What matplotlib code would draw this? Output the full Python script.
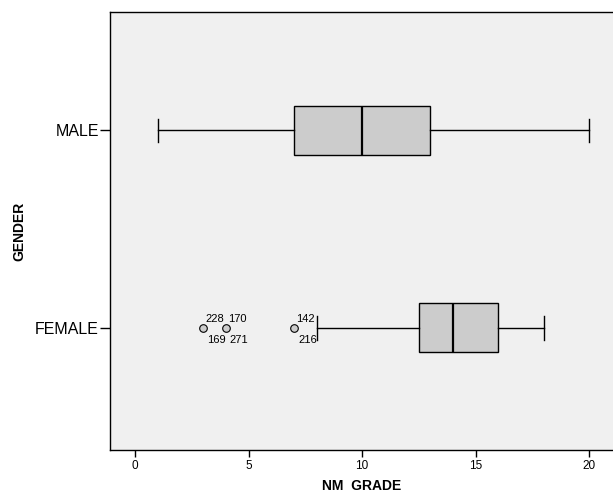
import matplotlib
matplotlib.use("Agg")
import matplotlib.pyplot as plt

plt.rcParams['font.family'] = ['Liberation Sans', 'DejaVu Sans']

categories = ["FEMALE", "MALE"]
whislo = [8, 1]
q1 = [12.5, 7]
med = [14, 10]
q3 = [16, 13]
whishi = [18, 20]
outlier_values = [3, 3, 4, 4, 7, 7]
outlier_ids = ["228", "169", "170", "271", "142", "216"]
outlier_pos = ["above", "below", "above", "below", "above", "below"]
xticks = [0, 5, 10, 15, 20]

fig = plt.figure(figsize=(6.13, 4.92), dpi=100)
ax = fig.add_axes([110/613, 42/492, 503/613, 438/492])
ax.set_facecolor('#F0F0F0')

stats = []
for i in range(len(categories)):
    stats.append(dict(label=categories[i], whislo=whislo[i], q1=q1[i], med=med[i],
                      q3=q3[i], whishi=whishi[i], fliers=[]))
ax.bxp(stats, positions=[1, 2], vert=False, widths=0.25, capwidths=0.12,
       patch_artist=True, showfliers=False,
       boxprops=dict(facecolor='#CCCCCC', edgecolor='black', linewidth=1.0),
       medianprops=dict(color='black', linewidth=1.6),
       whiskerprops=dict(color='black', linewidth=1.0),
       capprops=dict(color='black', linewidth=1.0))

# outliers (female)
uniq = sorted(set(outlier_values))
ax.scatter(uniq, [1]*len(uniq), s=30, facecolor='#CCCCCC', edgecolor='black',
           linewidth=0.8, zorder=3)
for v, lab, pos in zip(outlier_values, outlier_ids, outlier_pos):
    if pos == "above":
        ax.annotate(lab, (v, 1), xytext=(2, 4), textcoords='offset pixels',
                    ha='left', va='bottom', fontsize=8)
    else:
        ax.annotate(lab, (v, 1), xytext=(4, -7), textcoords='offset pixels',
                    ha='left', va='top', fontsize=8)

ax.set_xlim(-1.1, 21.05)
ax.set_ylim(0.38, 2.60)
ax.set_xticks(xticks)
ax.set_xticklabels([str(t) for t in xticks], fontsize=8.5)
ax.set_yticks([1, 2])
ax.set_yticklabels(categories, fontsize=11.5)
ax.tick_params(axis='x', direction='out', length=5, width=1, pad=2)
ax.tick_params(axis='y', direction='out', length=7, width=1, pad=1)
ax.spines['right'].set_visible(False)
for s in ['left', 'bottom', 'top']:
    ax.spines[s].set_linewidth(1.0)
ax.set_xlabel('NM  GRADE', fontsize=10, fontweight='bold', labelpad=5)
ax.set_ylabel('GENDER', fontsize=10, fontweight='bold', labelpad=6)

fig.savefig('out.png', dpi=100)
